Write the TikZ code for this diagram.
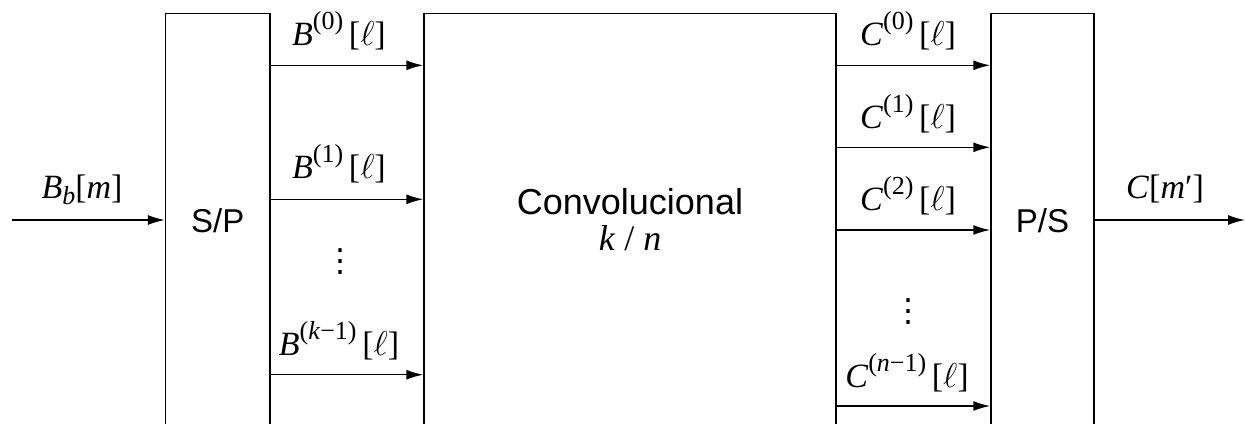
\documentclass[tikz,border=0pt]{standalone}
\usepackage{fontspec}
\setmainfont{Liberation Serif}
\setsansfont{Liberation Sans}
\newfontfamily\dvs{DejaVu Sans}
\usetikzlibrary{arrows.meta}
\newcommand{\vi}[1]{\textit{#1}}
\newcommand{\supx}[1]{\raisebox{0.45em}{\fontsize{13}{14}\selectfont #1}}
\newcommand{\ellx}{$\ell$}
\tikzset{
  blk/.style={draw, line width=0.75pt, rectangle, minimum height=208.3pt, inner sep=0pt},
  conn/.style={line width=0.75pt, -{Latex[length=8.5pt,width=5pt]}},
  lbl/.style={anchor=base, inner sep=0pt, font=\fontsize{17}{20}\selectfont},
  btxt/.style={font=\sffamily\fontsize{16.5}{20}\selectfont, inner sep=0pt, anchor=base},
  dots/.style={inner sep=0pt, font=\dvs\fontsize{16}{18}\selectfont}
}
\begin{document}
\begin{tikzpicture}[x=0.5pt,y=-0.5pt]
\useasboundingbox (0,0) rectangle (1245,423);
\node[blk, minimum width=52.2pt] (sp) at (217.8,221.7) {};
\node[blk, minimum width=206pt] (conv) at (630,221.7) {};
\node[blk, minimum width=51.5pt] (ps) at (1042.5,221.7) {};
\node[btxt] (sptxt) at (217.8,232) {S/P};
\node[btxt, font=\sffamily\fontsize{18}{20}\selectfont] (convtxt) at (630,214) {Convolucional};
\node[lbl, font=\fontsize{18}{20}\selectfont] (kn) at (630,250) {\vi{k} / \vi{n}};
\node[btxt] (pstxt) at (1042.5,232) {P/S};
\coordinate (in) at (11.7,220);
\coordinate (out) at (1245,220);
\draw[conn] (in) -- (in -| sp.west);
\draw[conn] (ps.east |- out) -- (out);
\node[lbl] (lin) at (82,198) {\vi{B}\raisebox{-0.2em}{\fontsize{13}{14}\selectfont\vi{b}}[\vi{m}]};
\node[lbl] (lout) at (1165,198) {\vi{C}[\vi{m}′]};
\foreach \y in {65.3, 199.3, 374.7}{
  \draw[conn] (sp.east |- 0,\y) -- (conv.west |- 0,\y);
}
\node[lbl] (b0) at (339,45) {\vi{B}\supx{(0)}\,[\ellx]};
\node[lbl] (b1) at (339,178) {\vi{B}\supx{(1)}\,[\ellx]};
\node[lbl] (bk) at (339,355) {\vi{B}\supx{(\vi{k}−1)}\,[\ellx]};
\node[dots] (bd) at (340.7,262) {⋮};
\foreach \y in {65.3, 147.3, 230, 406}{
  \draw[conn] (conv.east |- 0,\y) -- (ps.west |- 0,\y);
}
\node[lbl] (c0) at (908,45) {\vi{C}\supx{(0)}\,[\ellx]};
\node[lbl] (c1) at (908,128) {\vi{C}\supx{(1)}\,[\ellx]};
\node[lbl] (c2) at (908,210) {\vi{C}\supx{(2)}\,[\ellx]};
\node[lbl] (cn) at (907,387) {\vi{C}\supx{(\vi{n}−1)}\,[\ellx]};
\node[dots] (cd) at (908,312) {⋮};
\end{tikzpicture}
\end{document}
